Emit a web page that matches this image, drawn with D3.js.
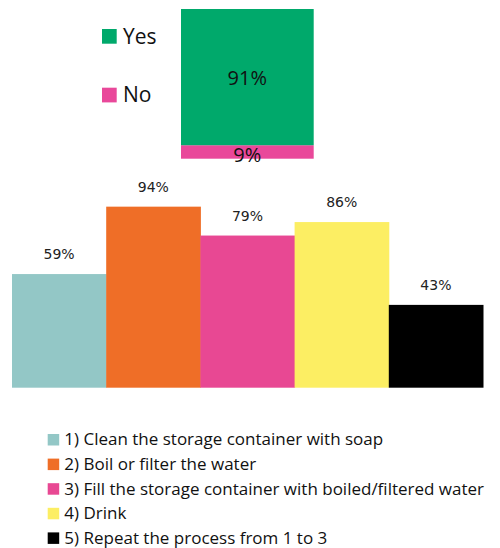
<!DOCTYPE html>
<html><head><meta charset="utf-8">
<script src="https://cdn.jsdelivr.net/npm/d3@7"></script>
<style>body{margin:0;background:#fff}svg{display:block}</style>
</head><body>
<script>
const topCategories = ["Yes", "No"];
const topValues = [91, 9];
const topColors = ["#00a96b", "#e9489a"];

const steps = ["1) Clean the storage container with soap", "2) Boil or filter the water",
  "3) Fill the storage container with boiled/filtered water", "4) Drink", "5) Repeat the process from 1 to 3"];
const stepValues = [59, 94, 79, 86, 43];
const stepColors = ["#93c7c6", "#ef6e27", "#e84893", "#fcee63", "#000000"];

const W = 500, H = 548;
const svg = d3.select("body").append("svg").attr("width", W).attr("height", H);
const legendFont = "'Open Sans', sans-serif";

// Top stacked bar (No at bottom, Yes above)
const yTop = d3.scaleLinear().domain([0, 100]).range([158.7, 9]);
const stackOrdered = [];
let c2 = 0;
[1, 0].forEach(i => { stackOrdered.push({k: topCategories[i], v: topValues[i], y0: c2, y1: c2 + topValues[i], c: topColors[i]}); c2 += topValues[i]; });
const gTop = svg.append("g");
gTop.selectAll("rect").data(stackOrdered).join("rect")
  .attr("x", 181).attr("width", 132.7)
  .attr("y", d => yTop(d.y1)).attr("height", d => yTop(d.y0) - yTop(d.y1))
  .attr("fill", d => d.c);
gTop.selectAll("text").data(stackOrdered).join("text")
  .attr("x", 247.3).attr("y", d => d.k === "Yes" ? (yTop(d.y0) + yTop(d.y1)) / 2 + 7.5 : yTop(d.y0) + 3)
  .attr("text-anchor", "middle").attr("font-family", legendFont).attr("font-size", 20)
  .attr("fill", "#111").text(d => d.v + "%");

// Top legend
const gl = svg.append("g");
topCategories.forEach((k, i) => {
  const y = 29 + i * 58.7;
  gl.append("rect").attr("x", 102).attr("y", y).attr("width", 14.7).attr("height", 14.7).attr("fill", topColors[i]);
  gl.append("text").attr("x", 123).attr("y", y + 14.5).attr("font-family", legendFont).attr("font-size", 21)
    .attr("fill", "#111").text(k);
});

// Bottom bars
const x = d3.scaleBand().domain(steps).range([12, 483]).padding(0);
const y = d3.scaleLinear().domain([0, 100]).range([387.7, 195.1]);
const gb = svg.append("g");
gb.selectAll("rect").data(stepValues).join("rect")
  .attr("x", (d, i) => x(steps[i])).attr("width", x.bandwidth() + 0.5)
  .attr("y", d => y(d)).attr("height", d => y(0) - y(d))
  .attr("fill", (d, i) => stepColors[i]);
gb.selectAll("text").data(stepValues).join("text")
  .attr("x", (d, i) => x(steps[i]) + x.bandwidth() / 2).attr("y", d => y(d) - 15)
  .attr("text-anchor", "middle").attr("font-family", "'DejaVu Sans', sans-serif").attr("font-size", 14)
  .attr("fill", "#222").text(d => d + "%");

// Bottom legend
const gl2 = svg.append("g");
steps.forEach((s, i) => {
  const yy = 434 + i * 24.6;
  gl2.append("rect").attr("x", 47.7).attr("y", yy).attr("width", 11.5).attr("height", 11.5).attr("fill", stepColors[i]);
  gl2.append("text").attr("x", 64.3).attr("y", yy + 11.3).attr("font-family", legendFont).attr("font-size", 17)
    .attr("fill", "#111").text(s);
});
</script>
</body></html>
